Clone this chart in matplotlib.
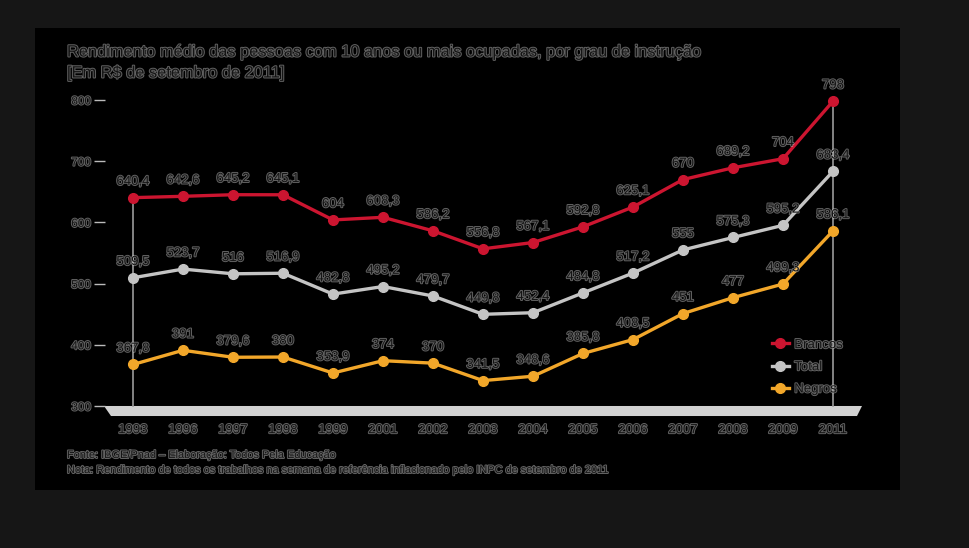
import matplotlib
matplotlib.use("Agg")
import matplotlib.pyplot as plt
import matplotlib.patheffects as pe
from matplotlib.patches import Polygon, Rectangle

years = ["1993", "1996", "1997", "1998", "1999", "2001", "2002", "2003",
         "2004", "2005", "2006", "2007", "2008", "2009", "2011"]
brancos = [640.4, 642.6, 645.2, 645.1, 604, 608.3, 586.2, 556.8,
           567.1, 592.8, 625.1, 670, 689.2, 704, 798]
total = [509.5, 523.7, 516, 516.9, 482.8, 495.2, 479.7, 449.8,
         452.4, 484.8, 517.2, 555, 575.3, 595.2, 683.4]
negros = [367.8, 391, 379.6, 380, 353.9, 374, 370, 341.5,
          348.6, 385.8, 408.5, 451, 477, 499.3, 586.1]
series_names = ["Brancos", "Total", "Negros"]
yticks = [300, 400, 500, 600, 700, 800]

title1 = "Rendimento médio das pessoas com 10 anos ou mais ocupadas, por grau de instrução"
title2 = "[Em R$ de setembro de 2011]"
foot1 = "Fonte: IBGE/Pnad – Elaboração: Todos Pela Educação"
foot2 = ("Nota: Rendimento de todos os trabalhos na semana de referência "
         "inflacionado pelo INPC de setembro de 2011")

W, H = 970, 548
fig = plt.figure(figsize=(W / 100, H / 100), dpi=100)
fig.patch.set_facecolor("#161616")
fig.patches.append(Rectangle((35 / W, 1 - 490 / H), 865 / W, 462 / H,
                             transform=fig.transFigure, facecolor="black",
                             edgecolor="none", zorder=-10))

TXT = "#141414"
halo = [pe.withStroke(linewidth=1.4, foreground="#d8d8d8", alpha=0.45)]

ax = fig.add_axes([105 / W, 1 - 420 / H, 757 / W, 330 / H])
ax.set_zorder(5)
ax.set_facecolor("none")
n = len(years)
x = list(range(n))
ax.set_xlim(-0.56, 14.58)
ax.set_ylim(277.1, 816.3)
for s in ax.spines.values():
    s.set_visible(False)

# bottom band
band = Polygon([[-0.58, 300], [14.58, 300], [14.48, 283.6], [-0.44, 283.6]],
               closed=True, facecolor="#d2d2d2", edgecolor="none", zorder=1)
ax.add_patch(band)

# vertical guide lines
ax.plot([0, 0], [300, brancos[0]], color="#9a9a9a", lw=1.2, zorder=2)
ax.plot([n - 1, n - 1], [300, brancos[-1]], color="#9a9a9a", lw=1.2, zorder=2)

colors = ["#cc1530", "#c4c4c4", "#f2a72a"]
for vals, c, name in zip([brancos, total, negros], colors, series_names):
    ax.plot(x, vals, color=c, lw=2.4, marker="o", ms=7, label=name, zorder=3)
    for xi, v in zip(x, vals):
        s = f"{v:g}".replace(".", ",")
        ax.annotate(s, (xi, v), xytext=(0, 7), textcoords="offset points",
                    ha="center", va="bottom", fontsize=9.5, color=TXT,
                    family="Liberation Sans", path_effects=halo, zorder=4)

ax.set_yticks(yticks)
ax.set_yticklabels([f"{t}" for t in yticks], family="Liberation Sans",
                   fontsize=8.5, color=TXT)
for lab in ax.get_yticklabels():
    lab.set_path_effects(halo)
ax.tick_params(axis="y", length=8, width=1, color="#bbbbbb", pad=2)
ax.set_xticks(x)
ax.set_xticklabels(years, family="Liberation Sans", fontsize=9.5, color=TXT)
for lab in ax.get_xticklabels():
    lab.set_path_effects(halo)
ax.tick_params(axis="x", length=0, pad=3)

leg = ax.legend(loc="upper left", bbox_to_anchor=(760 / W, 1 - 327 / H),
                bbox_transform=fig.transFigure, frameon=False,
                handlelength=1.3, handletextpad=0.4, labelspacing=0.75,
                prop={"family": "Liberation Sans", "size": 9.5})
for t in leg.get_texts():
    t.set_color(TXT)
    t.set_path_effects(halo)

fig.text(67 / W, 1 - 52 / H, title1, fontsize=11.8, color=TXT, va="center",
         family="Liberation Sans", path_effects=halo)
fig.text(67 / W, 1 - 73 / H, title2, fontsize=11.8, color=TXT, va="center",
         family="Liberation Sans", path_effects=halo)
fig.text(67 / W, 1 - 455 / H, foot1, fontsize=7.9, color=TXT, va="center",
         family="Liberation Sans", path_effects=halo)
fig.text(67 / W, 1 - 470 / H, foot2, fontsize=7.9, color=TXT, va="center",
         family="Liberation Sans", path_effects=halo)

fig.savefig("out.png", dpi=100, facecolor=fig.get_facecolor())
